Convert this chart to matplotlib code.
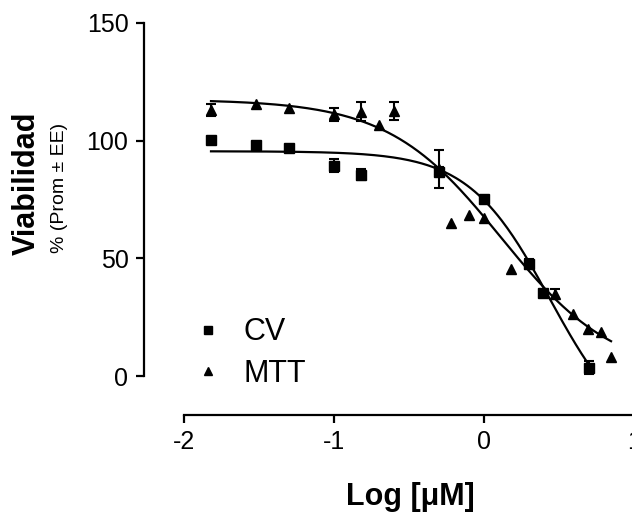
import matplotlib.pyplot as plt
import numpy as np

plt.rcParams["font.family"] = ["Liberation Sans", "DejaVu Sans"]
plt.rcParams["axes.unicode_minus"] = False

# log concentration (uM) and viability (% mean +- SE)
log_cv = np.array([-1.82, -1.52, -1.30, -1.0, -0.82, -0.30, 0.0, 0.30, 0.395, 0.70])
viab_cv = np.array([100.3, 98.3, 97.0, 89.4, 85.6, 86.8, 75.2, 47.6, 35.1, 3.5])
err_cv = np.array([np.nan, np.nan, np.nan, 2.8, 2.4, 2.0, np.nan, 2.1, np.nan, 2.8])

log_mtt = np.array([-1.82, -1.52, -1.30, -1.0, -0.82, -0.70, -0.60, -0.30, -0.222,
                    -0.10, 0.0, 0.178, 0.473, 0.596, 0.696, 0.78, 0.847])
viab_mtt = np.array([113.0, 115.6, 114.0, 111.2, 112.3, 106.7, 112.6, 87.8, 65.2,
                     68.4, 67.0, 45.6, 34.8, 26.5, 20.0, 18.6, 7.9])
err_mtt = np.array([2.6, np.nan, np.nan, 2.8, 4.0, np.nan, 3.9, 8.1, np.nan,
                    np.nan, np.nan, np.nan, 2.0, np.nan, np.nan, np.nan, np.nan])

# sigmoidal dose-response fits: top, bottom, logEC50, hill slope
fit_cv = (95.5, -30.0, 0.439, 1.6)
fit_mtt = (117.5, 0.0, 0.115, 1.15)


def dose_response(x, top, bottom, logec50, hill):
    return bottom + (top - bottom) / (1 + 10 ** ((x - logec50) * hill))


fig = plt.figure(figsize=(6.32, 5.18), dpi=100)
ax = fig.add_axes([184 / 632, 142 / 518, 450 / 632, 353 / 518])

for x, y, e, fit, mk, ms, lab in [
    (log_cv, viab_cv, err_cv, fit_cv, "s", 6.5, "CV"),
    (log_mtt, viab_mtt, err_mtt, fit_mtt, "^", 7.5, "MTT"),
]:
    xs = np.linspace(x.min(), x.max(), 200)
    ax.plot(xs, dose_response(xs, *fit), color="black", lw=1.6, clip_on=False)
    has = ~np.isnan(e)
    ax.errorbar(x[has], y[has], yerr=e[has], fmt="none", ecolor="black",
                elinewidth=1.5, capsize=3.8, capthick=1.5, clip_on=False)
    ax.plot(x, y, mk, color="black", ms=ms, ls="none", label=lab, clip_on=False)

ax.set_xlim(-2, 1)
ax.set_ylim(0, 150)
ax.set_xticks([-2, -1, 0, 1])
ax.set_yticks([0, 50, 100, 150])

for s in ["top", "right"]:
    ax.spines[s].set_visible(False)
ax.spines["left"].set_position(("outward", 29))
ax.spines["bottom"].set_position(("outward", 28))
ax.spines["left"].set_bounds(0, 150)
ax.spines["bottom"].set_bounds(-2, 1)
for s in ["left", "bottom"]:
    ax.spines[s].set_linewidth(1.6)
ax.tick_params(width=1.6, length=6, labelsize=18, pad=5)

ax.legend(loc="center left", bbox_to_anchor=(177 / 632, 1 - 353 / 518),
          bbox_transform=fig.transFigure, frameon=False, fontsize=22,
          markerscale=0.8, handlelength=1.0, handletextpad=0.67,
          labelspacing=0.38, borderpad=0)

fig.text(410 / 632, 1 - 497 / 518, "Log [μM]", fontsize=22, fontweight="bold",
         ha="center", va="center")
fig.text(27 / 632, 1 - 183 / 518, "Viabilidad", fontsize=22, fontweight="bold",
         rotation=90, ha="center", va="center")
fig.text(59 / 632, 1 - 188 / 518, "% (Prom ± EE)", fontsize=14,
         rotation=90, ha="center", va="center")

fig.savefig("out.png", dpi=100)
